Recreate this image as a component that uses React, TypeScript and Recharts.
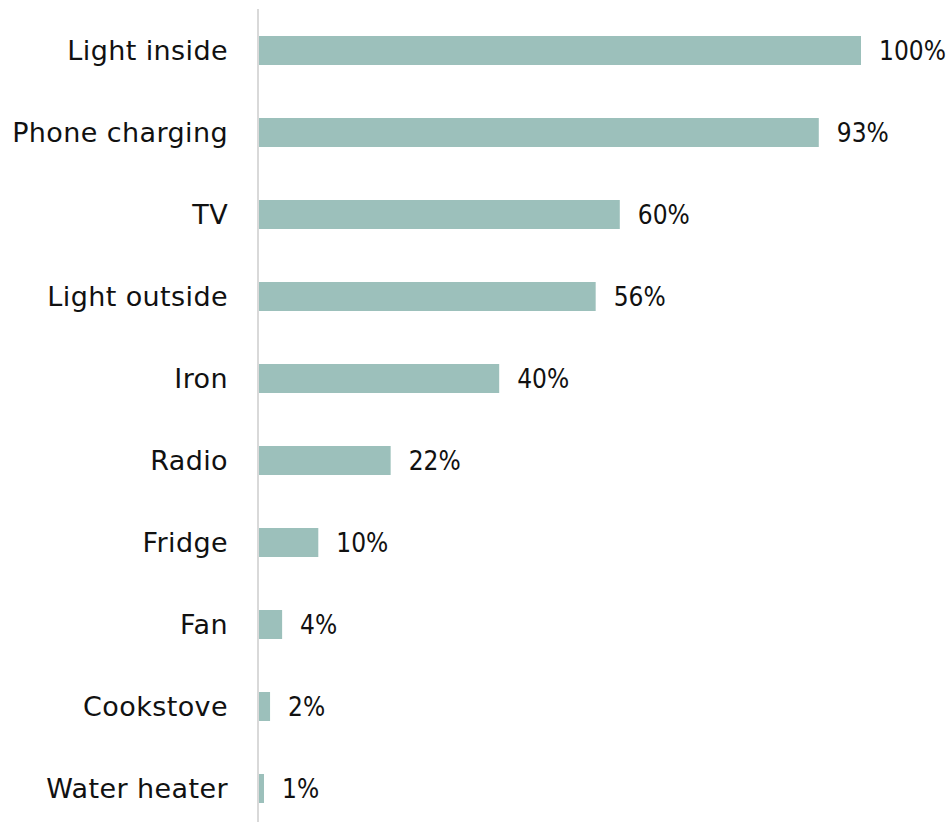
import { Bar, BarChart, LabelList, XAxis, YAxis } from "recharts"

const appliances = [
  "Light inside",
  "Phone charging",
  "TV",
  "Light outside",
  "Iron",
  "Radio",
  "Fridge",
  "Fan",
  "Cookstove",
  "Water heater",
]

const shares = [100, 93, 60, 56, 40, 22, 10, 4, 2, 1]

const data = appliances.map((name, i) => ({ name, share: shares[i] }))

export default function App() {
  return (
    <div
      style={{
        position: "absolute",
        left: 0,
        top: 0,
        width: 951,
        height: 822,
        overflow: "hidden",
        background: "#ffffff",
      }}
    >
      <BarChart
        width={951}
        height={830}
        data={data}
        layout="vertical"
        margin={{ top: 9, right: 90, left: 0, bottom: 1 }}
      >
        <XAxis type="number" domain={[0, 100]} hide />
        <YAxis
          type="category"
          dataKey="name"
          width={258}
          tickLine={false}
          tickSize={0}
          tickMargin={30}
          axisLine={{ stroke: "#d9d9d9", strokeWidth: 2 }}
          tick={{
            fill: "#111111",
            fontSize: 27,
            letterSpacing: 0.4,
            fontFamily: "'DejaVu Sans', sans-serif",
          }}
        />
        <Bar dataKey="share" fill="#9cc0bb" barSize={29} isAnimationActive={false}>
          <LabelList
            dataKey="share"
            position="right"
            offset={18}
            formatter={(v: number) => `${v}%`}
            style={{
              fill: "#111111",
              fontSize: 26,
              fontFamily: "'DejaVu Sans Condensed', 'DejaVu Sans', sans-serif",
            }}
          />
        </Bar>
      </BarChart>
    </div>
  )
}
